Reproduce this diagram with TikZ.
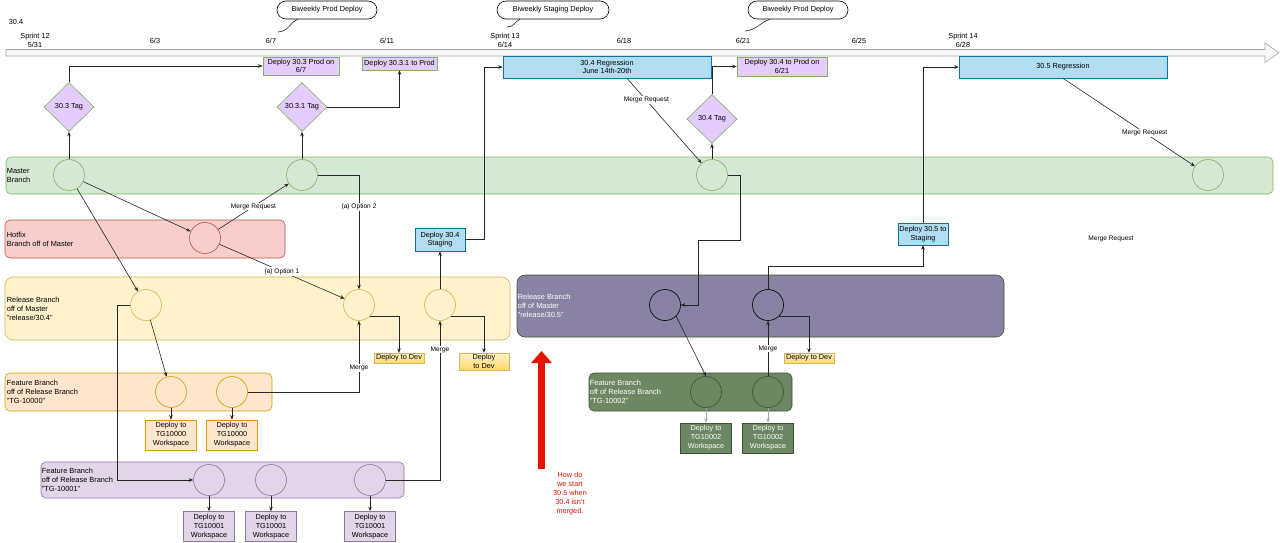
\documentclass[tikz,border=0pt]{standalone}
\usepackage{fontspec}
\setmainfont{Liberation Sans}
\usetikzlibrary{arrows.meta,shapes.geometric,positioning}

\definecolor{mastfill}{HTML}{D5E8D4}
\definecolor{maststroke}{HTML}{82B366}
\definecolor{hotfill}{HTML}{F8CECC}
\definecolor{hotstroke}{HTML}{B85450}
\definecolor{relfill}{HTML}{FFF2CC}
\definecolor{relstroke}{HTML}{D6B656}
\definecolor{featfill}{HTML}{FFE6CC}
\definecolor{featstroke}{HTML}{D79B00}
\definecolor{lilacfill}{HTML}{E1D5E7}
\definecolor{lilacstroke}{HTML}{9673A6}
\definecolor{tagfill}{HTML}{E5CCFF}
\definecolor{regfill}{HTML}{B1DDF0}
\definecolor{regstroke}{HTML}{10739E}
\definecolor{devtop}{HTML}{FFF2CC}
\definecolor{devbot}{HTML}{FFD966}
\definecolor{relbfill}{HTML}{8982A3}
\definecolor{darkgreen}{HTML}{3A5431}
\definecolor{moss}{HTML}{6D8764}
\definecolor{alarm}{HTML}{E51400}

\begin{document}
\begin{tikzpicture}[x=1pt,y=-1pt,
	font=\fontsize{7.3}{8.5}\selectfont,
	>={Stealth[length=4.5pt,width=3.6pt]},
	lane/.style={draw, rounded corners=5pt, inner sep=0pt, line width=0.6pt},
	lanetext/.style={anchor=west, align=left, inner sep=0pt,
						font=\fontsize{7.4}{9}\selectfont},
	commit/.style={circle, draw, minimum size=31pt, inner sep=0pt, line width=0.6pt},
	tag/.style={diamond, draw=maststroke, fill=tagfill, minimum width=50pt,
						minimum height=49pt, inner sep=0pt, line width=0.6pt},
	prodbox/.style={draw=maststroke, fill=tagfill, align=center, inner sep=0.5pt, line width=0.6pt},
	regbox/.style={draw=regstroke, fill=regfill, align=center, inner sep=0.5pt, line width=0.6pt},
	devbox/.style={draw=relstroke, top color=devtop, bottom color=devbot, align=center,
						minimum width=50pt, inner sep=0.5pt},
	wsbox/.style={draw, align=center, minimum width=51pt, minimum height=30pt,
						inner sep=0pt, line width=0.6pt, font=\fontsize{7.3}{9}\selectfont},
	callout/.style={draw, rounded corners=9pt, minimum width=100pt, minimum height=18pt, line width=0.6pt},
	flow/.style={->, draw=black!85, line width=0.6pt},
	tail/.style={draw=black!85, line width=0.6pt},
	mr/.style={font=\fontsize{6.6}{7}\selectfont, fill=white, inner sep=1pt},
	tick/.style={align=center, font=\fontsize{7.3}{9}\selectfont, inner sep=0pt}]

		\useasboundingbox (0,0) rectangle (1280,542);
		\fill[white] (0,0) rectangle (1280,542);

		% timeline
		\filldraw[fill=gray!6, draw=gray!70, line width=0.6pt]
			(6,49.5) -- (1265,49.5) -- (1265,43) -- (1279,52.75) -- (1265,62.5)
			-- (1265,56) -- (6,56) -- cycle;

		\node[tick] (rel) at (16,22) {30.4};
		\node[tick] (s12) at (35,40.5) {Sprint 12\\5/31};
		\node[tick] (d603) at (155,41) {6/3};
		\node[tick] (d607) at (271,41) {6/7};
		\node[tick] (d611) at (387,41) {6/11};
		\node[tick] (s13) at (505,40.5) {Sprint 13\\6/14};
		\node[tick] (d618) at (624,41) {6/18};
		\node[tick] (d621) at (743,41) {6/21};
		\node[tick] (d625) at (859,41) {6/25};
		\node[tick] (s14) at (963,40.5) {Sprint 14\\6/28};

		% callouts
		\node[callout] (call1) at (327,10) {Biweekly Prod Deploy};
		\node[callout, minimum width=112pt] (call2) at (553,10) {Biweekly Staging Deploy};
		\node[callout] (call3) at (798,10) {Biweekly Prod Deploy};
		\coordinate (tail1) at (278,32);
		\coordinate (tail2) at (507,27);
		\coordinate (tail3) at (745,31);
		\draw[tail] ([xshift=-29pt]call1.south) .. controls +(-9,3) and +(12,-1) .. (tail1);
		\draw[tail] ([xshift=-33pt]call2.south) .. controls +(-6,3) and +(7,0) .. (tail2);
		\draw[tail] ([xshift=-28pt]call3.south) .. controls +(-10,3) and +(12,-1) .. (tail3);

		% lanes
		\node[lane, fill=mastfill, draw=maststroke, minimum width=1267pt, minimum height=37pt] (master) at (639.5,175.5) {};
		\node[lane, fill=hotfill, draw=hotstroke, minimum width=280pt, minimum height=38pt] (hotfix) at (145,239) {};
		\node[lane, fill=relfill, draw=relstroke, rounded corners=8pt, minimum width=505pt, minimum height=63pt] (rel304) at (257.5,308.5) {};
		\node[lane, fill=featfill, draw=featstroke, minimum width=267pt, minimum height=38pt] (tg0) at (138.5,392) {};
		\node[lane, fill=lilacfill, draw=lilacstroke, minimum width=363pt, minimum height=36pt] (tg1) at (222.5,480) {};
		\node[lane, fill=relbfill, draw=darkgreen, rounded corners=8pt, minimum width=487pt, minimum height=62pt] (rel305) at (760.5,306) {};
		\node[lane, fill=moss, draw=darkgreen, minimum width=203pt, minimum height=38pt] (tg2) at (690.5,392) {};

		\node[lanetext] (masterlbl) at ([xshift=1pt]master.west) {Master\\Branch};
		\node[lanetext] (hotfixlbl) at ([xshift=2pt]hotfix.west) {Hotfix\\Branch off of Master};
		\node[lanetext] (rel304lbl) at ([xshift=2pt]rel304.west) {Release Branch\\off of Master\\"release/30.4"};
		\node[lanetext] (tg0lbl) at ([xshift=2pt]tg0.west) {Feature Branch\\off of Release Branch\\"TG-10000"};
		\node[lanetext] (tg1lbl) at ([xshift=1pt]tg1.west) {Feature Branch\\off of Release Branch\\"TG-10001"};
		\node[lanetext, text=white] (rel305lbl) at ([xshift=1pt]rel305.west) {Release Branch\\off of Master\\"release/30.5"};
		\node[lanetext, text=white] (tg2lbl) at ([xshift=1pt]tg2.west) {Feature Branch\\off of Release Branch\\"TG-10002"};

		% commits
		\node[commit, draw=maststroke, fill=mastfill] (m1) at (69,175) {};
		\node[commit, draw=maststroke, fill=mastfill] (m2) at (302,175) {};
		\node[commit, draw=maststroke, fill=mastfill] (m3) at (712,175) {};
		\node[commit, draw=maststroke, fill=mastfill] (m4) at (1208,175) {};
		\node[commit, draw=hotstroke, fill=hotfill] (h1) at (205,238) {};
		\node[commit, draw=relstroke, fill=relfill] (r1) at (146,305) {};
		\node[commit, draw=relstroke, fill=relfill] (r2) at (359,305) {};
		\node[commit, draw=relstroke, fill=relfill] (r3) at (440,305) {};
		\node[commit, draw=featstroke, fill=featfill] (f1) at (171,392) {};
		\node[commit, draw=featstroke, fill=featfill] (f2) at (232,392) {};
		\node[commit, draw=lilacstroke, fill=lilacfill] (g1) at (209,480) {};
		\node[commit, draw=lilacstroke, fill=lilacfill] (g2) at (271,480) {};
		\node[commit, draw=lilacstroke, fill=lilacfill] (g3) at (370,480) {};
		\node[commit, draw=black, fill=relbfill] (n1) at (665,305) {};
		\node[commit, draw=black, fill=relbfill] (n2) at (768,305) {};
		\node[commit, draw=darkgreen, fill=moss] (p1) at (706,392) {};
		\node[commit, draw=darkgreen, fill=moss] (p2) at (768,392) {};

		% tags and deploys
		\node[tag] (tag303) at (69,107) {30.3 Tag};
		\node[tag] (tag3031) at (302,107) {30.3.1 Tag};
		\node[tag] (tag304) at (712,119) {30.4 Tag};

		\node[prodbox, minimum width=76pt, minimum height=18pt] (dep303) at (301,66) {Deploy 30.3 Prod on\\6/7};
		\node[prodbox, minimum width=75pt, minimum height=13pt] (dep3031) at (399.5,63.5) {Deploy 30.3.1 to Prod};
		\node[prodbox, minimum width=90pt, minimum height=19pt] (dep304) at (782,66.5) {Deploy 30.4 to Prod on\\6/21};

		\node[regbox, minimum width=208pt, minimum height=22pt] (reg304) at (607,67) {30.4 Regression\\June 14th-20th};
		\node[regbox, minimum width=208pt, minimum height=22pt] (reg305) at (1063,67) {30.5 Regression};
		\node[regbox, minimum width=50pt, minimum height=23pt] (stg304) at (440,239.5) {Deploy 30.4\\Staging};
		\node[regbox, minimum width=50pt, minimum height=22pt] (stg305) at (923,234) {Deploy 30.5 to\\Staging};

		\node[devbox, minimum height=10pt] (dev1) at (399,358) {Deploy to Dev};
		\node[devbox, minimum height=17pt] (dev2) at (484,361.5) {Deploy\\to Dev};
		\node[devbox, minimum height=10pt] (dev3) at (809,358) {Deploy to Dev};

		\node[wsbox, draw=featstroke, fill=featfill] (ws0a) at (171,435) {Deploy to\\TG10000\\Workspace};
		\node[wsbox, draw=featstroke, fill=featfill] (ws0b) at (232,435) {Deploy to\\TG10000\\Workspace};
		\node[wsbox, draw=lilacstroke, fill=lilacfill] (ws1a) at (209,526.5) {Deploy to\\TG10001\\Workspace};
		\node[wsbox, draw=lilacstroke, fill=lilacfill] (ws1b) at (271,526.5) {Deploy to\\TG10001\\Workspace};
		\node[wsbox, draw=lilacstroke, fill=lilacfill] (ws1c) at (370,526.5) {Deploy to\\TG10001\\Workspace};
		\node[wsbox, draw=darkgreen, fill=moss, text=white] (ws2a) at (706,438) {Deploy to\\TG10002\\Workspace};
		\node[wsbox, draw=darkgreen, fill=moss, text=white] (ws2b) at (768,438) {Deploy to\\TG10002\\Workspace};

		\node[mr] (mrfree) at (1111,239) {Merge Request};

		% question
		\coordinate (warnfoot) at (541.5,469);
		\coordinate (warntip) at (541.5,351);
		\draw[alarm, line width=7pt, -{Triangle[length=12pt,width=20pt]}] (warnfoot) -- (warntip);
		\node[align=center, text=alarm, font=\fontsize{7.3}{9}\selectfont] (warn) at (570,494)
			{How do\\we start\\30.5 when\\30.4 isn't\\merged.};

		% master and tags
		\draw[flow] (m1.north) -- (tag303.south);
		\draw[flow] (tag303.north) |- (dep303.west);
		\draw[flow] (m2.north) -- (tag3031.south);
		\draw[flow] (tag3031.east) -| (dep3031.south);
		\draw[flow] (m3.north) -- (tag304.south);
		\draw[flow] (tag304.north) |- (dep304.west);

		% hotfix
		\draw[flow] (m1) -- (h1);
		\draw[flow] (h1) -- node[mr] {Merge Request} (m2);
		\draw[flow] (h1) -- node[mr] {(a) Option 1} (r2);
		\draw[flow] (m2.east) -| node[mr, pos=0.64] {(a) Option 2} (r2.north);

		% release 30.4
		\draw[flow] (m1) -- (r1);
		\draw[flow] (r1) -- (f1);
		\draw[flow] (r1.west) -- ++(-12.5,0) |- (g1.west);
		\draw[flow] (f2.east) -| node[mr, pos=0.67] {Merge} (r2.south);
		\draw[flow] (g3.east) -| node[mr, pos=0.91] {Merge} (r3.south);
		\draw[flow] (r2.-45) -| (dev1.north);
		\draw[flow] (r3.-45) -| (dev2.north);
		\draw[flow] (r3.north) -- (stg304.south);
		\draw[flow] (stg304.east) -- ++(19,0) |- (reg304.west);
		\draw[flow] ([xshift=20pt]reg304.south) -- node[mr, pos=0.26] {Merge Request} (m3);

		\draw[flow] (f1.south) -- (ws0a.north);
		\draw[flow] (f2.south) -- (ws0b.north);
		\draw[flow] (g1.south) -- (ws1a.north);
		\draw[flow] (g2.south) -- (ws1b.north);
		\draw[flow] (g3.south) -- (ws1c.north);

		% release 30.5
		\draw[flow] (m3.east) -- ++(12.5,0) -- ++(0,65) -- ++(-42,0) |- (n1.east);
		\draw[flow] (n1.-45) -- (p1.north);
		\draw[flow] (p2.north) -- node[mr] {Merge} (n2.south);
		\draw[flow] (n2.-45) -| (dev3.north);
		\draw[flow] (n2.north) -- ++(0,-22.5) -| (stg305.south);
		\draw[flow] (stg305.north) |- (reg305.west);
		\draw[flow] (reg305.south) -- node[mr, pos=0.62] {Merge Request} (m4);
		\draw[flow, draw=gray!70] (p1.south) -- (ws2a.north);
		\draw[flow, draw=gray!70] (p2.south) -- (ws2b.north);

	\end{tikzpicture}
\end{document}
